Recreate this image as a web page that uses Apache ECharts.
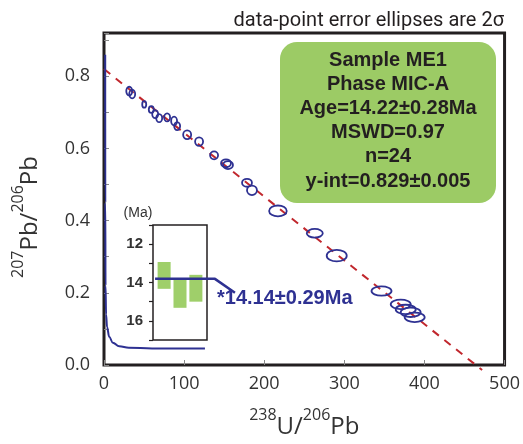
<!DOCTYPE html>
<html><head><meta charset="utf-8">
<script src="https://cdn.jsdelivr.net/npm/echarts@6/dist/echarts.min.js"></script>
<style>html,body{margin:0;padding:0;background:#fff}#c{width:523px;height:444px}</style>
</head><body><div id="c"></div>
<script>
// ---- data ----
// 2-sigma error ellipses: centre (238U/206Pb, 207Pb/206Pb) and half-axes
const ellipseX  = [31.5, 35.2, 50.2, 59.0, 63.9, 68.9, 78.8, 87.5, 91.3, 103.8, 118.7, 137.4, 152.3, 154.8, 178.5, 184.7, 217.1, 263.1, 290.5, 346.4, 370.4, 376.6, 382.8, 387.8];
const ellipseY  = [0.759, 0.751, 0.722, 0.708, 0.695, 0.684, 0.686, 0.676, 0.662, 0.638, 0.619, 0.581, 0.559, 0.554, 0.505, 0.484, 0.427, 0.365, 0.303, 0.205, 0.168, 0.154, 0.146, 0.132];
const ellipseSX = [3.7, 3.7, 2.5, 3.1, 3.7, 3.7, 3.7, 3.7, 3.7, 5.0, 5.0, 5.0, 6.2, 6.2, 6.2, 6.2, 11.0, 10.0, 12.5, 12.5, 12.5, 12.5, 12.5, 12.5];
const ellipseSY = [0.012, 0.012, 0.009, 0.0095, 0.011, 0.011, 0.011, 0.012, 0.011, 0.012, 0.012, 0.011, 0.011, 0.011, 0.011, 0.013, 0.015, 0.012, 0.016, 0.013, 0.013, 0.013, 0.013, 0.013];
// regression (discordia) line
const regX = [0, 472];
const regY = [0.82, -0.014];
// Tera-Wasserburg concordia curve
const concX = [1.5, 1.6, 1.9, 2.6, 3.8, 6.5, 11, 19, 31, 60, 126];
const concY = [0.86, 0.45, 0.22, 0.14, 0.105, 0.078, 0.062, 0.052, 0.048, 0.046, 0.046];
// inset: age bars (Ma)
const insetBarX    = [1, 2, 3];
const insetBarLow  = [12.93, 13.86, 13.6];
const insetBarHigh = [14.33, 15.32, 15.0];
// weighted-mean line and its leader to the label
const insetMeanX = [0.43, 4.2, 5.46];
const insetMeanY = [13.81, 13.81, 14.54];
// tick labels
const xTicks = [0, 100, 200, 300, 400, 500];
const yTicks = [0.0, 0.2, 0.4, 0.6, 0.8];
const insetTicks = [12, 14, 16];
// texts
const titleText = 'data-point error ellipses are 2σ';
const boxLines = ['Sample ME1', 'Phase MIC-A', 'Age=14.22±0.28Ma', 'MSWD=0.97', 'n=24', 'y-int=0.829±0.005'];
const meanLabel = '*14.14±0.29Ma';

const chart = echarts.init(document.getElementById('c'));
const navy = '#2e3192';
const dark = '#231f20';
const insetPxPerUnit = 54 / 3.4;

const option = {
  animation: false,
  backgroundColor: '#fff',
  title: {
    text: titleText, right: 14, top: 6,
    textStyle: {fontSize: 20, fontWeight: 'normal', color: dark, fontFamily: 'Roboto'}
  },
  grid: [
    {left: 104, right: 18, top: 33, bottom: 70, show: true, borderColor: dark, borderWidth: 3, backgroundColor: '#fff'},
    {left: 153, top: 225, width: 54, height: 115, show: true, borderColor: dark, borderWidth: 1.5, backgroundColor: 'transparent'},
    {left: 153, top: 225, width: 5.16 * insetPxPerUnit, height: 115, show: false}
  ],
  xAxis: [
    {
      type: 'value', gridIndex: 0, min: 0, max: 500, interval: 100,
      axisLine: {show: false}, splitLine: {show: false},
      axisTick: {inside: true, length: 5, lineStyle: {color: '#888'}},
      axisLabel: {
        fontSize: 18, color: '#333', fontFamily: 'Open Sans', margin: 10,
        formatter: v => xTicks.indexOf(v) >= 0 ? String(v) : ''
      },
      name: '{s|238}{m|U/}{s|206}{m|Pb}', nameLocation: 'middle', nameGap: 42,
      nameTextStyle: {
        rich: {
          s: {fontSize: 16, fontFamily: 'Open Sans', color: '#333', verticalAlign: 'top', lineHeight: 30},
          m: {fontSize: 24, fontFamily: 'Open Sans', color: '#333', lineHeight: 30, padding: [10, 0, 0, 0]}
        }
      }
    },
    {type: 'value', gridIndex: 1, min: 0.3, max: 3.7, show: false},
    {type: 'value', gridIndex: 2, min: 0.3, max: 5.46, show: false}
  ],
  yAxis: [
    {
      type: 'value', gridIndex: 0, min: 0, max: 0.92, interval: 0.1,
      axisLine: {show: false}, splitLine: {show: false},
      axisTick: {inside: true, length: 5, lineStyle: {color: '#888'}},
      axisLabel: {
        fontSize: 18, color: '#333', fontFamily: 'Open Sans', margin: 14,
        formatter: v => {
          const hit = yTicks.find(t => Math.abs(t - v) < 1e-6);
          return hit === undefined ? '' : hit.toFixed(1);
        }
      },
      name: '{s|207}{m|Pb/}{s|206}{m|Pb}', nameLocation: 'middle', nameGap: 64, nameRotate: 90,
      nameTextStyle: {
        padding: [0, 36, 0, 0],
        rich: {
          s: {fontSize: 16, fontFamily: 'Open Sans', color: '#333', verticalAlign: 'top', lineHeight: 30},
          m: {fontSize: 24, fontFamily: 'Open Sans', color: '#333', lineHeight: 30, padding: [10, 0, 0, 0]}
        }
      }
    },
    {
      type: 'value', gridIndex: 1, min: 11, max: 17, interval: 1, inverse: true,
      axisLine: {show: false}, splitLine: {show: false},
      axisTick: {show: true, inside: false, length: 4, lineStyle: {color: dark, width: 1.2}},
      axisLabel: {
        fontSize: 15, fontWeight: 'bold', color: '#333', fontFamily: 'Liberation Sans', margin: 10,
        formatter: v => insetTicks.indexOf(v) >= 0 ? String(v) : ''
      }
    },
    {type: 'value', gridIndex: 2, min: 11, max: 17, inverse: true, show: false}
  ],
  graphic: [
    {type: 'rect', left: 280, top: 42, shape: {width: 216, height: 161, r: 17}, style: {fill: '#9ccb65'}, z: 5},
    {
      type: 'text', x: 388, y: 48, z: 6,
      style: {
        text: boxLines.join('\n'), fill: '#231f20', font: 'bold 20px "Liberation Sans"',
        align: 'center', verticalAlign: 'top', lineHeight: 24.2
      }
    },
    {
      type: 'text', x: 217, y: 298, z: 6,
      style: {text: meanLabel, fill: navy, font: 'bold 20px "Liberation Sans"', verticalAlign: 'middle', align: 'left'}
    },
    {
      type: 'text', x: 138, y: 213, z: 6,
      style: {text: '(Ma)', fill: '#333', font: '14px "Liberation Sans"', align: 'center', verticalAlign: 'middle'}
    }
  ],
  series: [
    {
      type: 'line', xAxisIndex: 0, yAxisIndex: 0, clip: false, symbol: 'none', z: 3,
      data: regX.map((x, i) => [x, regY[i]]),
      lineStyle: {color: '#c1272d', width: 2, type: [8, 7]}
    },
    {
      type: 'line', xAxisIndex: 0, yAxisIndex: 0, symbol: 'none', smooth: 0.4, smoothMonotone: 'x', z: 3,
      data: concX.map((x, i) => [x, concY[i]]),
      lineStyle: {color: navy, width: 2}
    },
    {
      type: 'custom', xAxisIndex: 0, yAxisIndex: 0, z: 4,
      data: ellipseX.map((x, i) => [x, ellipseY[i], ellipseSX[i], ellipseSY[i]]),
      renderItem: (params, api) => {
        const c = api.coord([api.value(0), api.value(1)]);
        const s = api.size([api.value(2), api.value(3)]);
        return {type: 'ellipse', shape: {cx: c[0], cy: c[1], rx: s[0], ry: s[1]},
                style: {fill: null, stroke: navy, lineWidth: 1.8}};
      }
    },
    {
      type: 'custom', xAxisIndex: 1, yAxisIndex: 1, z: 3,
      data: insetBarX.map((x, i) => [x, insetBarLow[i], insetBarHigh[i]]),
      renderItem: (params, api) => {
        const a = api.coord([api.value(0), api.value(1)]);
        const b = api.coord([api.value(0), api.value(2)]);
        const w = api.size([0.82, 0])[0];
        return {type: 'rect', shape: {x: a[0] - w / 2, y: Math.min(a[1], b[1]), width: w, height: Math.abs(b[1] - a[1])},
                style: {fill: '#9fcf6a'}};
      }
    },
    {
      type: 'line', xAxisIndex: 2, yAxisIndex: 2, clip: false, symbol: 'none', z: 4,
      data: insetMeanX.map((x, i) => [x, insetMeanY[i]]),
      lineStyle: {color: navy, width: 2.5}
    }
  ]
};
chart.setOption(option);
</script>
</body></html>
